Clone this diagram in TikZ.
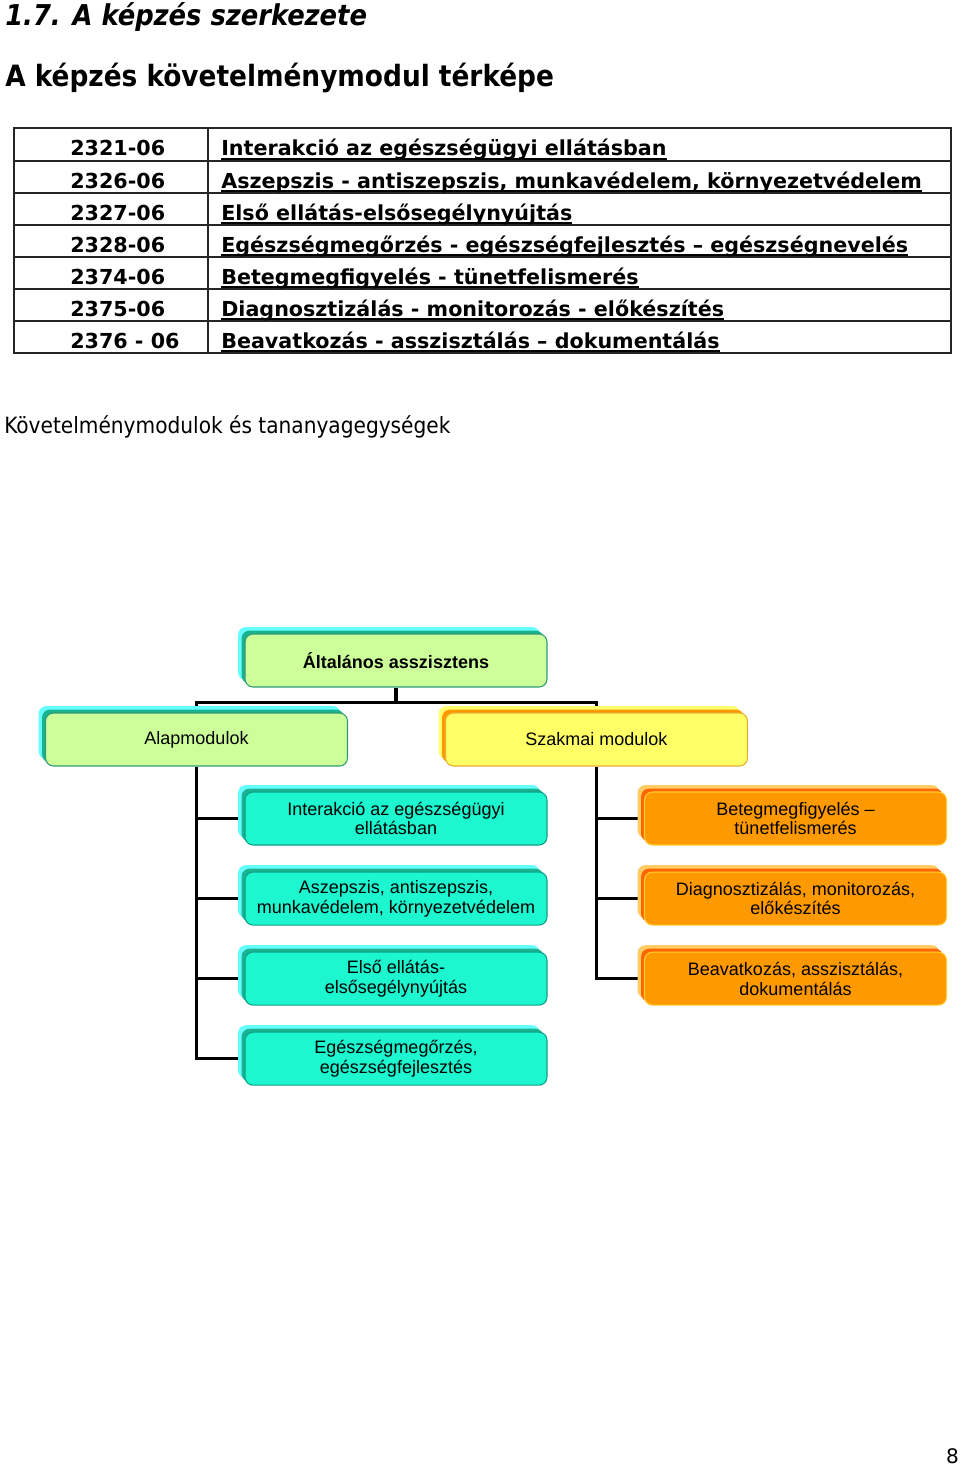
\documentclass[tikz,border=0pt]{standalone}
\usepackage{fontspec}
\setmainfont{DejaVu Sans}
\newfontfamily\headfont{DejaVu Sans Condensed}
\newfontfamily\boxfont{Liberation Sans}
\usetikzlibrary{positioning, shadows, backgrounds}
\newsavebox\topicbox
\newcommand\topicline[1]{\sbox\topicbox{#1}\rlap{\rule[-2.9pt]{\wd\topicbox}{1.1pt}}\usebox\topicbox}
\def\boxwidth{226.5pt}
\def\boxheight{39.75pt}
\def\linkwidth{2.6pt}
\def\shadowfar{5.25pt}
\def\shadownear{2.6pt}
\definecolor{limefill}{HTML}{CCFF99}
\definecolor{limeedge}{HTML}{2F9A78}
\definecolor{cyanback}{HTML}{66FFFF}
\definecolor{tealback}{HTML}{19B392}
\definecolor{aquafill}{HTML}{1CF7CF}
\definecolor{aquaedge}{HTML}{10A088}
\definecolor{yellowfill}{HTML}{FFFF66}
\definecolor{yellowedge}{HTML}{E6B030}
\definecolor{yellowback}{HTML}{FFFF70}
\definecolor{orangefill}{HTML}{FF9900}
\definecolor{orangeedge}{HTML}{FFCC33}
\definecolor{peachback}{HTML}{FFCC66}
\definecolor{redorange}{HTML}{FF6600}
\tikzset{
% Headings
title/.style={
	font=\headfont\bfseries\itshape\fontsize{21.5}{26}\selectfont,
	anchor=base west, inner sep=0,
},
heading/.style={
	font=\headfont\bfseries\fontsize{22}{26}\selectfont,
	anchor=base west, inner sep=0,
},
caption/.style={
	font=\headfont\fontsize{16.8}{20}\selectfont,
	anchor=base west, inner sep=0,
},
% Table
grid/.style={
	line width=1.2pt, draw=black!85,
},
code/.style={
	font=\bfseries\fontsize{15.5}{18}\selectfont,
	anchor=base west, inner sep=0,
},
topic/.style={
	font=\bfseries\fontsize{15.5}{18}\selectfont,
	anchor=base west, inner sep=0,
},
% Module boxes
module/.style={
	rectangle, rounded corners=6pt, line width=0.8pt,
	minimum width=\boxwidth, minimum height=\boxheight,
	inner sep=2pt, align=center,
	font=\boxfont\fontsize{13.5}{14.8}\selectfont,
},
lime_box/.style={
	module, fill=limefill, draw=limeedge,
	general shadow={fill=cyanback, shadow xshift=-\shadowfar, shadow yshift=\shadowfar},
	general shadow={fill=tealback, shadow xshift=-\shadownear, shadow yshift=\shadownear},
},
aqua_box/.style={
	module, fill=aquafill, draw=aquaedge,
	general shadow={fill=cyanback, shadow xshift=-\shadowfar, shadow yshift=\shadowfar},
	general shadow={fill=tealback, shadow xshift=-\shadownear, shadow yshift=\shadownear},
},
yellow_box/.style={
	module, fill=yellowfill, draw=yellowedge,
	general shadow={fill=yellowback, shadow xshift=-\shadowfar, shadow yshift=\shadowfar},
	general shadow={fill=orangefill, shadow xshift=-\shadownear, shadow yshift=\shadownear},
},
orange_box/.style={
	module, fill=orangefill, draw=orangeedge,
	general shadow={fill=peachback, shadow xshift=-\shadowfar, shadow yshift=\shadowfar},
	general shadow={fill=redorange, shadow xshift=-\shadownear, shadow yshift=\shadownear},
},
% Connection
link/.style={
	line width=\linkwidth, black,
},
}

\begin{document}
\begin{tikzpicture}[x=0.75pt, y=-0.75pt, node distance=19.5pt]
		\useasboundingbox (0,0) rectangle (960,1466);

		% Headings
		\node[title] (title) at (5,26) {1.7. A képzés szerkezete};
		\node[heading] (subtitle) at (5,87) {A képzés követelménymodul térképe};

		% Module table
		\draw[grid] (14,128) rectangle (951,353);
		\draw[grid] (208,128) -- (208,353)
			(14,161) -- (951,161)
			(14,193) -- (951,193)
			(14,225) -- (951,225)
			(14,257) -- (951,257)
			(14,289) -- (951,289)
			(14,321) -- (951,321);

		\node[code] (code1) at (70,156) {2321-06};
		\node[code] (code2) at (70,188) {2326-06};
		\node[code] (code3) at (70,220) {2327-06};
		\node[code] (code4) at (70,252) {2328-06};
		\node[code] (code5) at (70,284) {2374-06};
		\node[code] (code6) at (70,316) {2375-06};
		\node[code] (code7) at (70,348) {2376 - 06};
		%
		\node[topic] (topic1) at (221,156) {\topicline{Interakció az egészségügyi ellátásban}};
		\node[topic] (topic2) at (221,188) {\topicline{Aszepszis - antiszepszis, munkavédelem, környezetvédelem}};
		\node[topic] (topic3) at (221,220) {\topicline{Első ellátás-elsősegélynyújtás}};
		\node[topic] (topic4) at (221,252) {\topicline{Egészségmegőrzés - egészségfejlesztés – egészségnevelés}};
		\node[topic] (topic5) at (221,284) {\topicline{Betegmegfigyelés - tünetfelismerés}};
		\node[topic] (topic6) at (221,316) {\topicline{Diagnosztizálás - monitorozás - előkészítés}};
		\node[topic] (topic7) at (221,348) {\topicline{Beavatkozás - asszisztálás – dokumentálás}};

		\node[caption] (caption) at (4,433) {Követelménymodulok és tananyagegységek};

		% Components
		\node[lime_box, font=\boxfont\bfseries\fontsize{13.5}{14.8}\selectfont]
			 (general) at (396,660.5) {Általános asszisztens};

		\node[lime_box] (base) at (196.5,739.5) {Alapmodulok};
		\node[yellow_box] (prof) at (596.5,739.5) {Szakmai modulok};

		\node[aqua_box] (interact) at (396,818.5) {Interakció az egészségügyi\\ellátásban};
		\node[aqua_box, below=of interact] (asepsis) {Aszepszis, antiszepszis,\\munkavédelem, környezetvédelem};
		\node[aqua_box, below=of asepsis] (firstaid) {Első ellátás-\\elsősegélynyújtás};
		\node[aqua_box, below=of firstaid] (health) {Egészségmegőrzés,\\egészségfejlesztés};

		\node[orange_box] (observe) at (795.5,818.5) {Betegmegfigyelés –\\tünetfelismerés};
		\node[orange_box, below=of observe] (diagnose) {Diagnosztizálás, monitorozás,\\előkészítés};
		\node[orange_box, below=of diagnose] (intervene) {Beavatkozás, asszisztálás,\\dokumentálás};

		% Connections
		\begin{scope}[on background layer]
			\draw[link] (general.south) -- ++(0,15) coordinate (fork);
			\draw[link] (base.north) |- (fork) -| (prof.north);
			%
			\draw[link] (base.south) |- (health.west);
			\draw[link] (base.south |- interact.west) -- (interact.west);
			\draw[link] (base.south |- asepsis.west) -- (asepsis.west);
			\draw[link] (base.south |- firstaid.west) -- (firstaid.west);
			%
			\draw[link] (prof.south) |- (intervene.west);
			\draw[link] (prof.south |- observe.west) -- (observe.west);
			\draw[link] (prof.south |- diagnose.west) -- (diagnose.west);
		\end{scope}

		\node[anchor=base east, inner sep=0, font=\fontsize{15}{18}\selectfont] (page) at (959,1463) {8};
	\end{tikzpicture}
\end{document}
